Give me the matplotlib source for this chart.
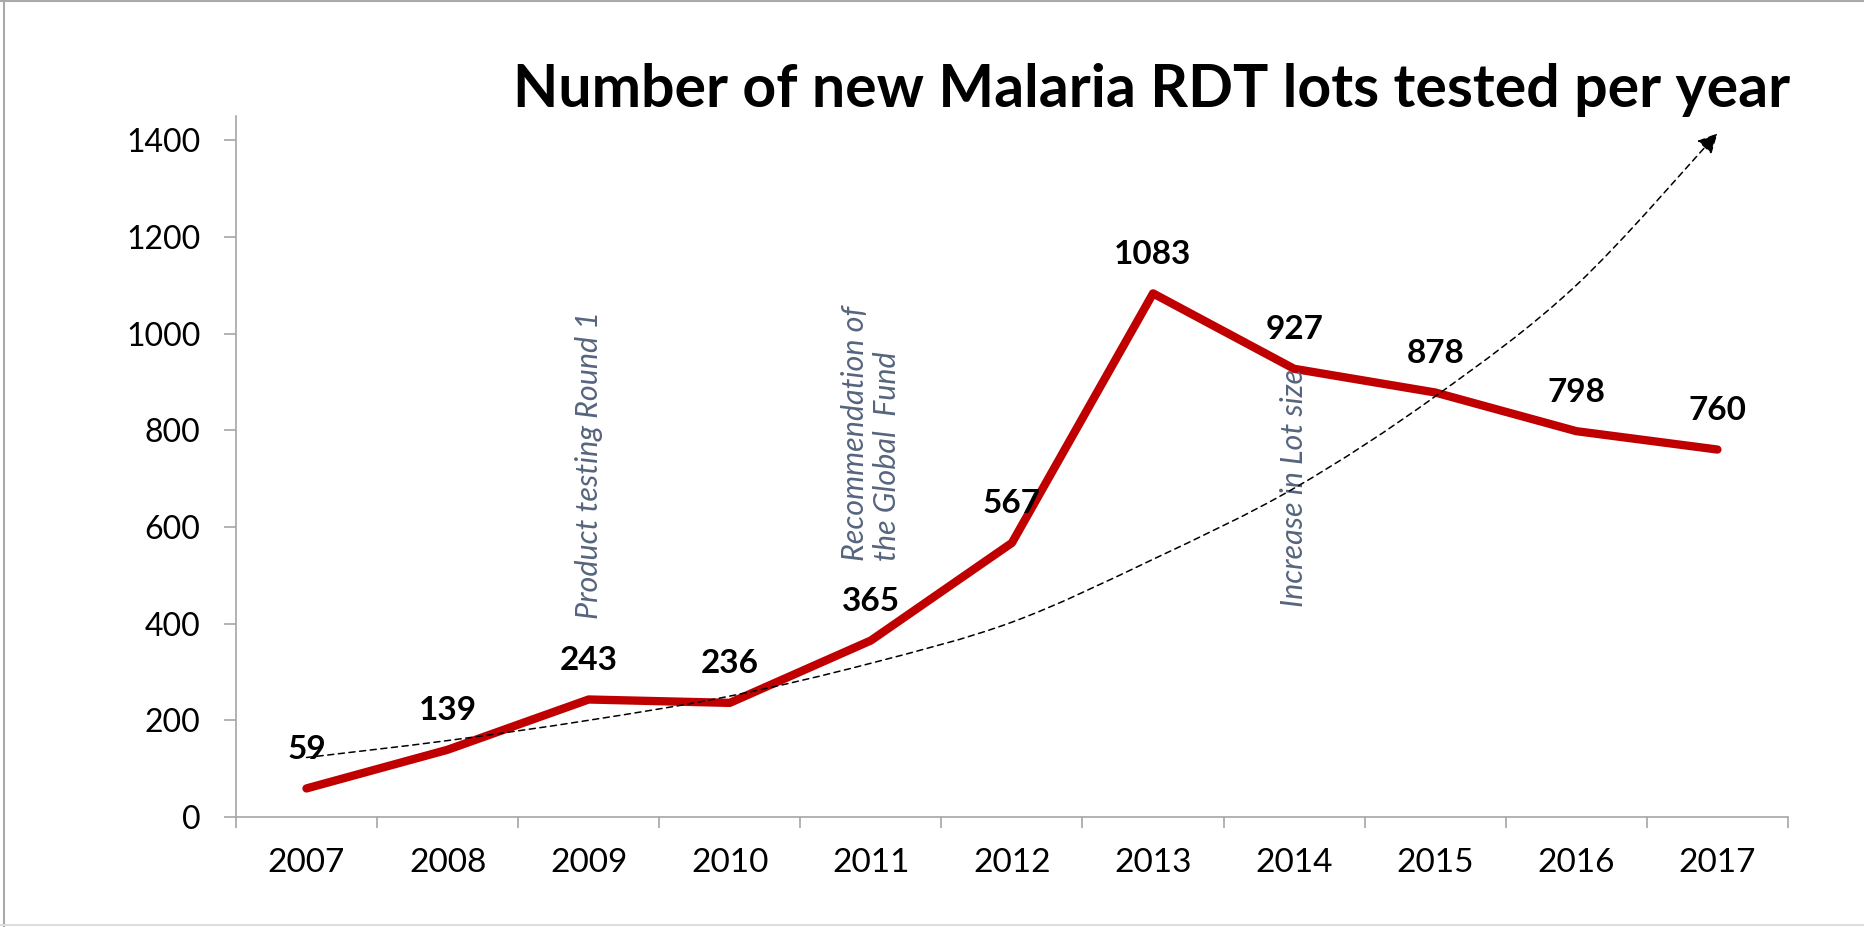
"""Number of new Malaria RDT lots tested per year"""
import matplotlib
matplotlib.use("Agg")
import matplotlib.pyplot as plt
from matplotlib.lines import Line2D
from matplotlib.path import Path
from matplotlib.patches import FancyArrowPatch
from matplotlib import rcParams

rcParams["font.family"] = ["Lato", "DejaVu Sans"]

years = ["2007", "2008", "2009", "2010", "2011", "2012", "2013", "2014", "2015", "2016", "2017"]
lots = [59, 139, 243, 236, 365, 567, 1083, 927, 878, 798, 760]

# dashed "trend" arrow (category index, value)
trend_x = [0, 1, 2, 3, 4, 5, 6, 7, 8, 9, 10]
trend_y = [123, 158, 200, 250, 318, 403, 533, 680, 870, 1100, 1414]

notes = [
    (2, 410, "Product testing Round 1"),
    (4, 529, "Recommendation of\nthe Global  Fund"),
    (7, 435, "Increase in Lot size"),
]

RED = "#C00000"
GRID = "#A6A6A6"
NOTE = "#56657D"

fig = plt.figure(figsize=(18.65, 9.27), dpi=100, facecolor="white")
ax = fig.add_axes([0.1265, 0.1187, 0.8322, 0.7562])

xs = list(range(len(years)))
ax.plot(xs, lots, color=RED, lw=6, solid_capstyle="round", solid_joinstyle="round", zorder=3)

# 데이터 라벨
for x, v in zip(xs, lots):
    ax.annotate(str(v), (x, v), xytext=(0, 28), textcoords="offset points",
                ha="center", va="center", fontsize=24, fontweight="bold", color="black", zorder=5)

# 점선 화살표 (Catmull-Rom -> bezier)
pts = list(zip(trend_x, trend_y))
verts = [pts[0]]
codes = [Path.MOVETO]
for i in range(len(pts) - 1):
    p0 = pts[max(i - 1, 0)]
    p1 = pts[i]
    p2 = pts[i + 1]
    p3 = pts[min(i + 2, len(pts) - 1)]
    c1 = (p1[0] + (p2[0] - p0[0]) / 6, p1[1] + (p2[1] - p0[1]) / 6)
    c2 = (p2[0] - (p3[0] - p1[0]) / 6, p2[1] - (p3[1] - p1[1]) / 6)
    verts += [c1, c2, p2]
    codes += [Path.CURVE4] * 3
arrow = FancyArrowPatch(path=Path(verts, codes), arrowstyle="-|>,head_length=12,head_width=6",
                        color="black", lw=1.1, ls=(0, (4, 3)), zorder=4)
ax.add_patch(arrow)

for x, y, s in notes:
    ax.text(x, y, s, rotation=90, ha="center", va="bottom", multialignment="left",
            fontsize=22, style="italic", color=NOTE)

ax.set_xlim(-0.5, len(years) - 0.5)
ax.set_ylim(0, 1450)
ax.set_yticks(range(0, 1401, 200))
ax.set_xticks(xs)
ax.set_xticklabels(years)
ax.set_xticks([i - 0.5 for i in range(len(years) + 1)], minor=True)

ax.tick_params(axis="x", which="major", length=0, pad=22, labelsize=24)
ax.tick_params(axis="x", which="minor", length=8, width=1.2, color=GRID, direction="out")
ax.tick_params(axis="y", length=8.5, width=1.2, color=GRID, pad=17, labelsize=23)

for side in ["top", "right"]:
    ax.spines[side].set_visible(False)
for side in ["left", "bottom"]:
    ax.spines[side].set_color(GRID)
    ax.spines[side].set_linewidth(1.2)

fig.text(0.96, 0.885, "Number of new Malaria RDT lots tested per year", fontsize=42.5,
         fontweight="bold", ha="right", va="baseline", color="black")

# 바깥 테두리
fig.add_artist(Line2D([0.002, 0.002], [0, 1], color="#AAAAAA", lw=1.5, transform=fig.transFigure))
fig.add_artist(Line2D([0, 1], [0.999, 0.999], color="#AAAAAA", lw=1.5, transform=fig.transFigure))
fig.add_artist(Line2D([0, 1], [0.002, 0.002], color="#DDDDDD", lw=1.5, transform=fig.transFigure))

fig.savefig("out.png", dpi=100, facecolor="white")
